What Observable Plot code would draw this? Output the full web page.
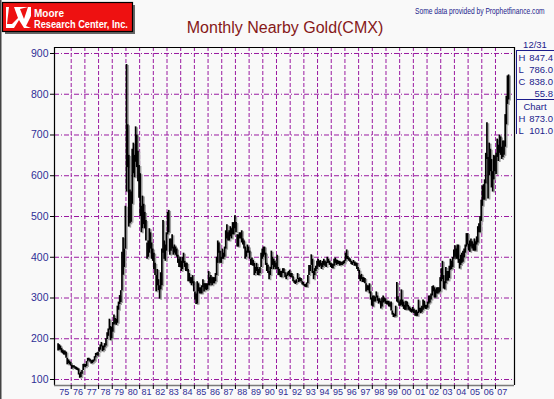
<!DOCTYPE html>
<html><head><meta charset="utf-8">
<script src="https://cdn.jsdelivr.net/npm/d3@7"></script>
<script src="https://cdn.jsdelivr.net/npm/@observablehq/plot@0.6"></script>
<style>
html,body{margin:0;padding:0;}
body{width:554px;height:399px;position:relative;overflow:hidden;background:#f9f9f9;font-family:Arial,"Liberation Sans",sans-serif;}
#chart{position:absolute;left:0;top:0;}
#over{position:absolute;left:0;top:0;}
</style></head><body>
<div id="chart"></div>
<svg id="over" width="554" height="399" font-family="Arial, 'Liberation Sans', sans-serif"></svg>
<script>
// ---- data (monthly nearby COMEX gold, Jan 1975 .. Dec 2007) ----
const startYear = 1975;
const yearLabels = ["75","76","77","78","79","80","81","82","83","84","85","86","87","88","89","90","91","92","93","94","95","96","97","98","99","00","01","02","03","04","05","06","07"];
const yTicks = [100,200,300,400,500,600,700,800,900];
const highs = [
 188,185,182,176,172,170,170,167,152,148,145,142,
 135,134,134,131,130,128,126,114,118,122,137,138,
 137,144,152,152,150,146,147,148,156,164,165,167,
 178,185,191,182,182,188,200,215,224,248,230,228,
 240,258,250,248,280,290,306,318,412,448,420,525,
 873,725,650,565,560,665,680,650,720,700,660,625,
 605,525,550,530,510,490,435,440,470,460,435,420,
 410,385,355,370,345,330,362,420,490,440,430,460,
 510,515,445,445,455,425,430,425,420,405,395,400,
 390,400,410,390,385,385,370,360,350,350,355,340,
 315,310,340,335,325,325,330,345,335,335,335,335,
 365,350,355,350,350,350,360,400,440,435,415,400,
 420,410,425,465,480,460,465,475,470,485,485,502,
 485,455,455,460,460,465,445,440,425,415,430,425,
 415,395,398,392,385,375,385,375,370,375,410,420,
 425,425,410,385,380,365,375,415,400,395,390,385,
 405,375,370,365,365,372,372,362,356,362,365,368,
 360,360,352,342,342,345,360,348,350,348,340,338,
 333,333,337,355,380,380,406,395,365,372,378,390,
 395,390,392,385,390,395,390,388,400,395,390,385,
 384,382,395,398,393,392,390,390,388,388,390,392,
 410,418,402,398,396,390,388,392,388,386,385,375,
 368,355,358,350,350,348,335,330,330,335,315,300,
 305,305,302,315,305,298,298,292,300,305,300,298,
 292,292,292,288,290,268,262,260,280,338,303,290,
 295,320,295,290,282,292,290,282,278,275,272,277,
 272,268,270,265,295,275,275,280,295,292,282,282,
 290,305,305,310,328,330,325,320,325,325,325,350,
 372,390,355,340,375,365,365,378,395,390,400,418,
 428,420,430,430,395,405,410,415,420,430,458,458,
 432,440,445,438,432,445,438,450,475,482,500,540,
 575,578,590,655,730,645,680,665,640,610,650,648,
 655,690,675,700,695,670,685,685,750,795,845,847.4
];
const lows = [
 170,172,172,165,163,160,160,152,136,139,136,133,
 125,128,128,125,123,122,111,103,105,113,122,130,
 129,132,143,146,143,138,139,142,145,153,159,157,
 167,172,180,168,171,178,182,198,206,221,195,200,
 216,234,236,233,238,270,284,289,317,356,375,420,
 560,620,474,482,486,530,605,595,633,620,585,545,
 500,460,470,480,470,440,395,400,410,420,395,390,
 370,355,315,330,318,297,320,330,410,395,390,415,
 455,460,405,415,420,405,410,405,400,385,375,375,
 365,370,385,375,365,365,340,340,335,330,335,315,
 295,284,285,315,310,310,310,325,315,320,318,320,
 330,330,335,330,335,335,340,355,385,410,385,385,
 395,395,400,420,445,440,440,450,445,455,455,470,
 460,425,425,445,445,435,430,420,395,400,410,410,
 395,380,380,378,355,360,365,355,355,360,375,395,
 400,405,380,365,360,345,355,370,380,370,375,370,
 370,355,355,350,350,360,360,350,345,353,355,352,
 350,350,340,336,333,336,345,338,340,340,332,330,
 327,326,326,335,355,365,380,360,345,355,365,370,
 378,375,378,370,375,380,378,375,385,385,380,375,
 372,372,378,385,380,382,382,378,380,380,382,384,
 390,395,394,390,388,382,380,385,378,378,370,365,
 345,340,345,338,338,335,315,318,318,310,295,280,
 278,290,290,300,292,285,288,273,278,288,290,285,
 283,283,278,278,268,258,252,253,254,290,288,280,
 280,282,278,272,270,270,278,270,268,265,263,265,
 262,255,255,255,262,265,262,265,270,275,272,272,
 275,285,288,295,305,315,300,300,310,310,312,315,
 340,345,322,320,335,342,342,348,368,370,375,395,
 400,395,395,385,371,380,385,388,398,410,425,430,
 415,412,425,420,415,415,415,430,435,460,460,488,
 525,540,540,580,640,543,600,610,570,560,590,610,
 603,645,635,655,650,640,645,650,670,725,775,786
];
// right-hand summary panel
const panelDate = "12/31";
const panelLast = [["H","847.4"],["L","786.0"],["C","838.0"],["","55.8"]];
const panelChart = [["H","873.0"],["L","101.0"]];

const rows = highs.map((h, i) => ({t: startYear + (i + 0.5) / 12, hi: h, lo: lows[i]}));
const years = d3.range(1975, 2008);
const bounds = d3.range(1976, 2008);
const X0 = 1974.78, X1 = 2008.39, Y0 = 85.3, Y1 = 914.7;
const navy = "#2e2e96", grid = "#9a1aa0";

const chart = Plot.plot({
  width: 554, height: 399,
  marginLeft: 54, marginRight: 40, marginTop: 47, marginBottom: 14,
  style: {background: "transparent", fontFamily: "Arial, 'Liberation Sans', sans-serif", overflow: "visible"},
  x: {domain: [X0, X1]},
  y: {domain: [Y0, Y1]},
  marks: [
    Plot.ruleY(yTicks, {stroke: grid, strokeDasharray: "5,2,1,2", strokeWidth: 1}),
    Plot.ruleX(bounds, {stroke: grid, strokeDasharray: "4,2", strokeWidth: 1}),
    Plot.ruleX(rows, {x: "t", y1: "lo", y2: "hi", stroke: "#a0a0a0", strokeWidth: 1.7, dx: 1.5, dy: 1}),
    Plot.ruleX(rows, {x: "t", y1: "lo", y2: "hi", stroke: "#000", strokeWidth: 1.7}),
    Plot.ruleX([X0, X1], {stroke: "#000", strokeWidth: 1.2}),
    Plot.ruleY([Y1], {stroke: "#000", strokeWidth: 1.2}),
    Plot.ruleY([Y0], {stroke: "#7a7a7a", strokeWidth: 1.6}),
    Plot.axisY({ticks: yTicks, tickSize: 4, tickPadding: 2, fontSize: 10.5, stroke: "#000", fill: navy, tickFormat: d => String(d), label: null}),
    Plot.axisX({ticks: bounds, tickSize: 4, stroke: "#000", tickFormat: () => "", label: null}),
    Plot.axisX({ticks: years.map(y => y + 0.5), tickSize: 0, tickPadding: 3, fontSize: 9, fill: navy,
      fontFamily: "'Liberation Sans Narrow', 'Arial Narrow', Arial, sans-serif",
      tickFormat: d => yearLabels[Math.floor(d) - startYear], label: null})
  ]
});
document.getElementById("chart").append(chart);

// ---- overlay: logo, title, source note, summary panel ----
const ns = "http://www.w3.org/2000/svg";
const over = document.getElementById("over");
function el(tag, attrs, text) {
  const e = document.createElementNS(ns, tag);
  for (const k in attrs) e.setAttribute(k, attrs[k]);
  if (text != null) e.textContent = text;
  over.append(e);
  return e;
}
// text squeezed horizontally into a given width
function fitText(x, y, width, attrs, text) {
  const t = el("text", Object.assign({x: 0, y: 0}, attrs), text);
  const w = t.getComputedTextLength() || width;
  t.setAttribute("transform", `translate(${x},${y}) scale(${width / w},1)`);
  return t;
}
// page left border
el("rect", {x: 0, y: 0, width: 1.5, height: 399, fill: "#444"});
// logo
el("rect", {x: 5, y: 5, width: 130, height: 29, fill: "#666"});
el("rect", {x: 2.5, y: 2.5, width: 130, height: 29, fill: "#ee1111", stroke: "#000", "stroke-width": 1.2});
el("polygon", {points: "6,7 31,7 31,28 6,28", fill: "#fff"});
el("polygon", {points: "9,7 14,7 18,18 12,24 7,24", fill: "#ee1111"});
el("polygon", {points: "20,9 28,7 24,19", fill: "#ee1111"});
el("polygon", {points: "14,28 19,20 24,28", fill: "#ee1111"});
el("polygon", {points: "26,26 31,16 31,28", fill: "#ee1111"});
fitText(34, 16.5, 30, {fill: "#fff", "font-size": 11.5, "font-weight": "bold"}, "Moore");
fitText(34, 28, 94, {fill: "#fff", "font-size": 11.5, "font-weight": "bold"}, "Research Center, Inc.");
// title
el("text", {x: 285, y: 33, fill: "#861818", "font-size": 16, "text-anchor": "middle"}, "Monthly Nearby Gold(CMX)");
// source note
fitText(415, 13.5, 130, {fill: "#1c1c8c", "font-size": 9}, "Some data provided by Prophetfinance.com");
// summary panel
const pc = "#1c1c8c", pf = 9.5;
el("text", {x: 535, y: 48, fill: pc, "font-size": pf, "text-anchor": "middle"}, panelDate);
el("line", {x1: 516, x2: 554, y1: 50.5, y2: 50.5, stroke: pc, "stroke-width": 1});
el("line", {x1: 516.5, x2: 516.5, y1: 50, y2: 134, stroke: pc, "stroke-width": 1});
panelLast.forEach((r, i) => {
  const y = 61 + i * 12;
  if (r[0]) el("text", {x: 518.5, y, fill: pc, "font-size": pf}, r[0]);
  el("text", {x: 553, y, fill: pc, "font-size": pf, "text-anchor": "end"}, r[1]);
});
el("line", {x1: 516, x2: 554, y1: 99.5, y2: 99.5, stroke: pc, "stroke-width": 1});
el("text", {x: 535, y: 110, fill: pc, "font-size": pf, "text-anchor": "middle"}, "Chart");
panelChart.forEach((r, i) => {
  const y = 122 + i * 11.5;
  el("text", {x: 518.5, y, fill: pc, "font-size": pf}, r[0]);
  el("text", {x: 553, y, fill: pc, "font-size": pf, "text-anchor": "end"}, r[1]);
});
</script>
</body></html>
